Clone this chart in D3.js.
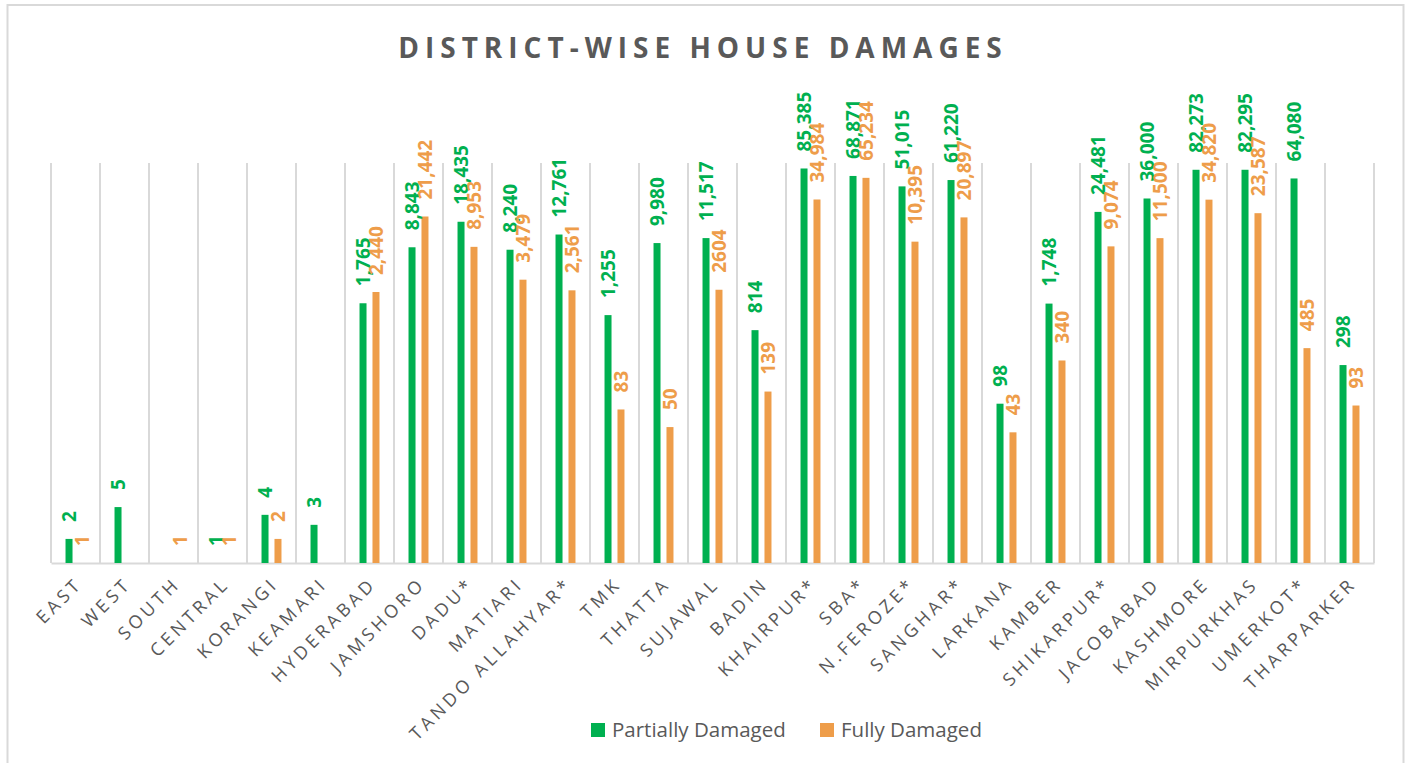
<!DOCTYPE html>
<html>
<head>
<meta charset="utf-8">
<script src="https://cdn.jsdelivr.net/npm/d3@7"></script>
<style>
  body { margin: 0; background: #fff; }
  svg { font-family: "Open Sans", sans-serif; }
</style>
</head>
<body>
<svg class="chart" width="1406" height="763"></svg>
<script>
const districts = ["EAST", "WEST", "SOUTH", "CENTRAL", "KORANGI", "KEAMARI", "HYDERABAD", "JAMSHORO",
  "DADU*", "MATIARI", "TANDO ALLAHYAR*", "TMK", "THATTA", "SUJAWAL", "BADIN", "KHAIRPUR*", "SBA*",
  "N.FEROZE*", "SANGHAR*", "LARKANA", "KAMBER", "SHIKARPUR*", "JACOBABAD", "KASHMORE", "MIRPURKHAS",
  "UMERKOT*", "THARPARKER"];

// labels exactly as printed on the chart (null = no value)
const partialLabels = ["2", "5", null, "1", "4", "3", "1,765", "8,843", "18,435", "8,240", "12,761", "1,255",
  "9,980", "11,517", "814", "85,385", "68,871", "51,015", "61,220", "98", "1,748", "24,481", "36,000",
  "82,273", "82,295", "64,080", "298"];
const fullyLabels = ["1", null, "1", "1", "2", null, "2,440", "21,442", "8,953", "3,479", "2,561", "83",
  "50", "2604", "139", "34,984", "65,234", "10,395", "20,897", "43", "340", "9,074", "11,500",
  "34,820", "23,587", "485", "93"];

const seriesNames = ["Partially Damaged", "Fully Damaged"];
const seriesLabels = [partialLabels, fullyLabels];
const colors = ["#00B050", "#EE9D4A"];

const svg = d3.select("svg.chart");
const width = 1406;
const margin = { left: 51, right: 32, top: 163, bottom: 200 };
const baseY = 563;

// outer frame
svg.append("rect")
    .attr("x", 7.5).attr("y", 5).attr("width", 1396).attr("height", 800)
    .attr("fill", "none").attr("stroke", "#d9d9d9").attr("stroke-width", 2);

svg.append("text")
    .attr("x", 703).attr("y", 58)
    .attr("text-anchor", "middle")
    .attr("fill", "#595959")
    .style("font-size", "28px").style("font-weight", "bold").style("letter-spacing", "6px")
    .text("DISTRICT-WISE HOUSE DAMAGES");

const xScale = d3.scaleBand()
    .domain(districts)
    .range([margin.left, width - margin.right]);

const inner = d3.scaleBand()
    .domain(seriesNames)
    .range([0, xScale.bandwidth()])
    .paddingInner(0.46)
    .paddingOuter(1.12);

const yScale = d3.scaleLog()
    .domain([1, 100000])
    .range([baseY, margin.top]);

// vertical gridlines at category boundaries
const edges = districts.map(d => xScale(d)).concat([xScale.range()[1]]);
svg.append("g").selectAll("line").data(edges)
    .enter().append("line")
    .attr("x1", d => d).attr("x2", d => d)
    .attr("y1", margin.top).attr("y2", baseY)
    .attr("stroke", "#d9d9d9").attr("stroke-width", 2);

const xAxis = svg.append("g")
    .attr("transform", `translate(0, ${baseY})`)
    .call(d3.axisBottom(xScale).tickSize(0));
xAxis.select(".domain").attr("stroke", "#d9d9d9").attr("stroke-width", 2);
xAxis.selectAll(".tick text")
    .attr("fill", "#595959")
    .style("font-size", "18px").style("letter-spacing", "3.8px")
    .style("font-family", "'Open Sans', sans-serif")
    .attr("text-anchor", "end")
    .attr("dy", null).attr("y", 0)
    .attr("transform", "translate(8, 22) rotate(-45)");

const toNum = s => +s.replace(/,/g, "");

seriesLabels.forEach((labels, si) => {
    const rows = districts.map((d, i) => ({ district: d, label: labels[i] }))
        .filter(r => r.label !== null);
    const name = seriesNames[si];

    svg.append("g").selectAll("rect").data(rows)
        .enter().append("rect")
        .attr("x", d => xScale(d.district) + inner(name))
        .attr("y", d => yScale(toNum(d.label)))
        .attr("width", inner.bandwidth())
        .attr("height", d => baseY - yScale(toNum(d.label)))
        .attr("fill", colors[si]);
});

seriesLabels.forEach((labels, si) => {
    const rows = districts.map((d, i) => ({ district: d, label: labels[i] }))
        .filter(r => r.label !== null);
    const name = seriesNames[si];

    svg.append("g").selectAll("text").data(rows)
        .enter().append("text")
        .attr("transform", d => {
            const cx = xScale(d.district) + inner(name) + inner.bandwidth() / 2;
            return `translate(${cx}, ${yScale(toNum(d.label)) - 17}) rotate(-90)`;
        })
        .attr("dy", "0.35em")
        .attr("fill", colors[si])
        .style("font-size", "19px").style("font-weight", "bold")
        .text(d => d.label);
});

// legend
const legend = svg.append("g").attr("transform", "translate(591, 723)");
const legendX = [0, 229];
seriesNames.forEach((n, i) => {
    const item = legend.append("g").attr("transform", `translate(${legendX[i]}, 0)`);
    item.append("rect").attr("width", 14).attr("height", 14).attr("fill", colors[i]);
    item.append("text").attr("x", 21).attr("y", 14)
        .attr("fill", "#595959").style("font-size", "20.5px")
        .text(n);
});
</script>
</body>
</html>
